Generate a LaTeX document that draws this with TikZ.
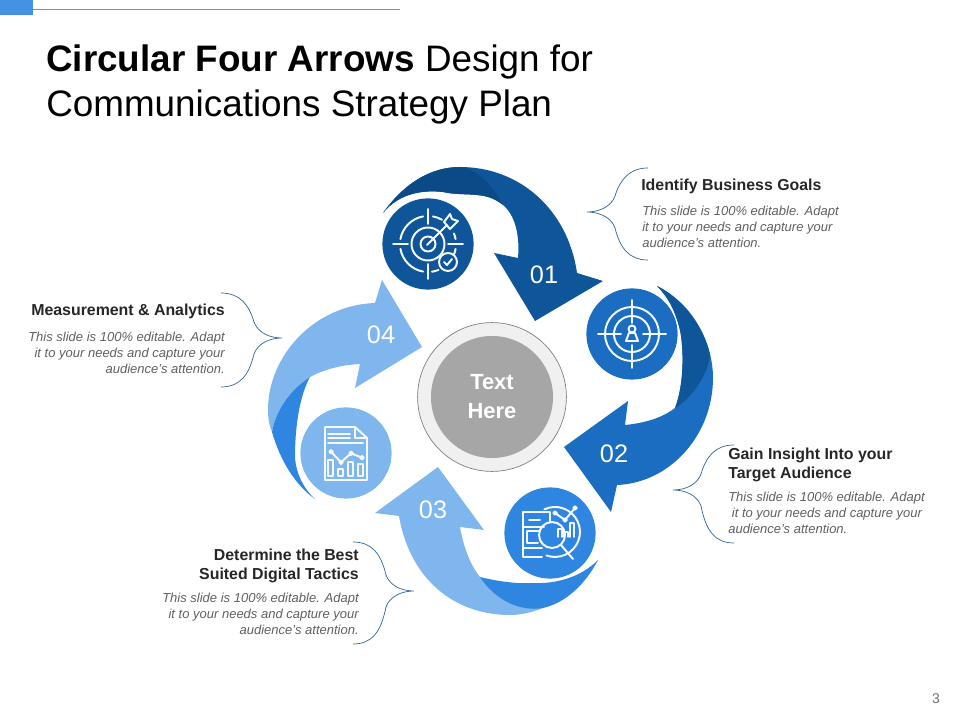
\documentclass[tikz,border=0pt]{standalone}
\usepackage{fontspec}
\setmainfont{Liberation Sans}
\definecolor{navy}{HTML}{0F5599}
\definecolor{navydark}{HTML}{0C4A87}
\definecolor{midblue}{HTML}{1A6DC0}
\definecolor{brightblue}{HTML}{2F86E0}
\definecolor{paleblue}{HTML}{80B6EE}
\definecolor{bodygrey}{HTML}{5F5F5F}
\definecolor{bracecol}{HTML}{2F6496}
\tikzset{
  icondisc/.style={circle, minimum size=2.28cm, inner sep=0pt},
  iconline/.style={white!92!paleblue, line width=1.4pt, line cap=round, line join=round},
  numlabel/.style={text=white, font=\fontsize{18}{20}\selectfont},
  headlabel/.style={text=black!85, font=\fontsize{11.3}{13.5}\selectfont\bfseries, inner sep=0pt},
  bodylabel/.style={text=bodygrey, font=\fontsize{9.25}{11.4}\selectfont\itshape, inner sep=0pt},
}
\begin{document}
\begin{tikzpicture}[x=0.025cm, y=-0.025cm]
  \useasboundingbox (0,0) rectangle (960,720);
  % header strip
  \fill[brightblue!90!white] (0,0) rectangle (33,15);
  \draw[bracecol!70!white, line width=0.5pt] (33,9) -- (400,9);
  \node[anchor=west, inner sep=0pt, align=left, font=\fontsize{26.2}{32}\selectfont] (title) at (46,84)
    {\textbf{Circular Four Arrows} Design for\\Communications Strategy Plan};
  \node[text=black!55, font=\fontsize{10}{12}\selectfont] (pageno) at (936,699) {3};

  % arrow 01
  \fill[navy] (383,213) .. controls (405,182) and (432,167) .. (460,167)
    .. controls (520,167) and (568,210) .. (577,273) -- (603,281) -- (535,321) -- (494,253) -- (518,258)
    .. controls (520,235) and (515,215) .. (503,205) .. controls (485,190) and (465,197) .. (443,192)
    .. controls (425,190) and (400,192) .. (383,213) -- cycle;
  \fill[navydark] (383,213) .. controls (405,182) and (432,167) .. (460,167)
    .. controls (472,168) and (490,180) .. (503,205) .. controls (485,190) and (465,197) .. (443,192)
    .. controls (425,190) and (400,192) .. (383,213) -- cycle;
  % arrow 02
  \fill[midblue] (657,286) .. controls (695,305) and (713,345) .. (713,378)
    .. controls (713,435) and (670,483) .. (617,485) -- (611,512) -- (564,447) -- (628,401) -- (625,425)
    .. controls (645,423) and (662,418) .. (675,408) .. controls (684,385) and (684,350) .. (680,330)
    .. controls (675,310) and (668,297) .. (657,286) -- cycle;
  \fill[navy] (657,286) .. controls (685,300) and (705,330) .. (710,355)
    .. controls (708,375) and (692,398) .. (675,408) .. controls (684,385) and (684,350) .. (680,330)
    .. controls (675,310) and (668,297) .. (657,286) -- cycle;
  % arrow 03
  \fill[paleblue] (438,467) -- (484,530) -- (460,527) .. controls (463,545) and (470,565) .. (480,577)
    .. controls (495,595) and (520,610) .. (543,608) .. controls (530,613) and (520,615) .. (510,615)
    .. controls (455,615) and (410,580) .. (399,516) -- (375,513) -- cycle;
  \fill[brightblue] (480,577) .. controls (500,582) and (520,584) .. (533,583)
    .. controls (555,584) and (580,578) .. (598,560) .. controls (585,585) and (565,603) .. (543,608)
    .. controls (520,612) and (495,600) .. (480,577) -- cycle;
  % arrow 04
  \fill[paleblue] (382,280) -- (422,347) -- (355,388) -- (360,364) .. controls (340,365) and (323,370) .. (310,377)
    .. controls (290,390) and (276,410) .. (272,432) .. controls (269,425) and (268,418) .. (268,410)
    .. controls (268,355) and (315,305) .. (375,303) -- cycle;
  \fill[brightblue] (310,377) .. controls (300,395) and (295,425) .. (295,457)
    .. controls (296,475) and (305,490) .. (315,499) .. controls (295,485) and (280,460) .. (272,432)
    .. controls (276,410) and (290,390) .. (310,377) -- cycle;

  \node[numlabel] (numa) at (544,275) {01};
  \node[numlabel] (numb) at (614,454) {02};
  \node[numlabel] (numc) at (433,510) {03};
  \node[numlabel] (numd) at (381,335) {04};

  % centre
  \node[circle, minimum size=3.72cm, fill=black!6, draw=black!50, line width=0.5pt] (hubring) at (492,397) {};
  \node[circle, minimum size=3.05cm, fill=black!35, text=white, align=center,
    font=\fontsize{15.6}{20.6}\selectfont\bfseries] (hub) at (hubring) {Text\\Here};

  % icon discs
  \node[icondisc, fill=navy] (icona) at (428,244) {};
  \node[icondisc, fill=midblue] (iconb) at (632,334) {};
  \node[icondisc, fill=brightblue] (iconc) at (550,533) {};
  \node[icondisc, fill=paleblue] (icond) at (346,453) {};

  % target with dart and tick
  \begin{scope}[shift={(icona)}, iconline]
    \draw (0,0) circle (7.5);
    \draw (0,0) circle (16.5);
    \foreach \from/\to in {100/170, 190/260, 280/300, 338/350, 10/35, 68/82} {
      \draw (\from:28) arc (\from:\to:28);
    }
    \draw (-35,0) -- (-20,0);
    \draw (20,0) -- (35,0);
    \draw (0,-35) -- (0,-20);
    \draw (0,20) -- (0,35);
    \draw (-1,1) -- (19,-19);
    \draw (16,-22) -- (22,-30) -- (24,-25) -- (30,-23) -- (22,-15) -- cycle;
    \draw[fill=navy] (20,18) circle (9);
    \draw (16,18) -- (19,21) -- (24,15);
  \end{scope}
  % target with person
  \begin{scope}[shift={(iconb)}, iconline]
    \draw (0,0) circle (18);
    \draw (0,0) circle (27);
    \draw (-34,0) -- (-11,0);
    \draw (11,0) -- (34,0);
    \draw (0,-34) -- (0,-11);
    \draw (0,11) -- (0,34);
    \draw (0,-5) circle (3.5);
    \draw (-3,-1) -- (3,-1) -- (6,7) -- (-6,7) -- cycle;
  \end{scope}
  % phone, globe, magnifier
  \begin{scope}[shift={(iconc)}, iconline]
    \draw (-5.6,-23.7) arc (-115:110:25);
    \draw (0,-11) -- (0,-21) -- (-27,-21) -- (-27,24) -- (-8,24);
    \draw (-27,-6) -- (-6,-6);
    \draw (-27,15) -- (-8,15);
    \draw (-23,-2) -- (-10,-2) (-23,-2) -- (-23,10) -- (-12,10);
    \draw (-21,-13) -- (-10,-13);
    \draw (5,-20) -- (15,-13) -- (25,-25);
    \foreach \px/\py in {5/-20, 15/-13, 25/-25} {
      \draw[fill=brightblue] (\px,\py) circle (1.8);
    }
    \foreach \bx/\btop in {8/-4, 14/-1, 20/-10} {
      \draw (\bx,4) -- (\bx,\btop) -- (\bx+4,\btop) -- (\bx+4,4);
    }
    \draw (2,2) circle (13);
    \draw (11,12) -- (23,26);
  \end{scope}
  % report page
  \begin{scope}[shift={(icond)}, iconline]
    \draw (-21,-26) -- (9,-26) -- (21,-15) -- (21,27) -- (-21,27) -- cycle;
    \draw (9,-26) -- (9,-15) -- (21,-15);
    \draw (-18,-19) -- (4,-19);
    \draw (-18,-15) -- (4,-15);
    \draw (-18,-10) -- (17,-10);
    \draw (-15,-1.3) -- (-5,9.3) -- (5,0.3) -- (16,4.7);
    \foreach \px/\py in {-15/-1.3, -5/9.3, 5/0.3, 16/4.7} {
      \draw[fill=paleblue] (\px,\py) circle (1.8);
    }
    \foreach \bx/\btop in {-18/7, -8/16, 2/9, 12/11} {
      \draw (\bx,\btop) rectangle (\bx+5,23);
    }
  \end{scope}

  % braces, tip first
  \foreach \tipx/\tipy/\dirn/\up/\dn in {587/212/1/44/48, 673/490/1/45/53, 414/591/-1/49/53, 282/338/-1/45/49} {
    \begin{scope}[shift={(\tipx,\tipy)}, xscale=\dirn]
      \draw[bracecol, line width=0.5pt] (61,-\up) .. controls (42,-\up) and (33,-\up+12) .. (28,-16)
        .. controls (24,-5) and (12,0) .. (0,0) .. controls (12,0) and (24,5) .. (28,16)
        .. controls (33,\dn-12) and (42,\dn) .. (61,\dn);
    \end{scope}
  }

  % callout texts
  \node[headlabel, anchor=west] (heada) at (641,186) {Identify Business Goals};
  \node[bodylabel, anchor=west, align=left] (bodya) at (642,227)
    {This slide is 100\% editable. Adapt\\it to your needs and capture your\\audience's attention.};
  \node[headlabel, anchor=west, align=left] (headb) at (728,465) {Gain Insight Into your\\Target Audience};
  \node[bodylabel, anchor=west, align=left] (bodyb) at (728,513)
    {This slide is 100\% editable. Adapt\\\ it to your needs and capture your\\audience's attention.};
  \node[headlabel, anchor=east, align=right] (headc) at (359,566) {Determine the Best\\Suited Digital  Tactics};
  \node[bodylabel, anchor=east, align=right] (bodyc) at (359,614)
    {This slide is 100\% editable. Adapt\\it to your needs and capture your\\audience's attention.};
  \node[headlabel, anchor=east] (headd) at (225,311) {Measurement \& Analytics};
  \node[bodylabel, anchor=east, align=right] (bodyd) at (225,353)
    {This slide is 100\% editable. Adapt\\it to your needs and capture your\\audience's attention.};
\end{tikzpicture}
\end{document}
